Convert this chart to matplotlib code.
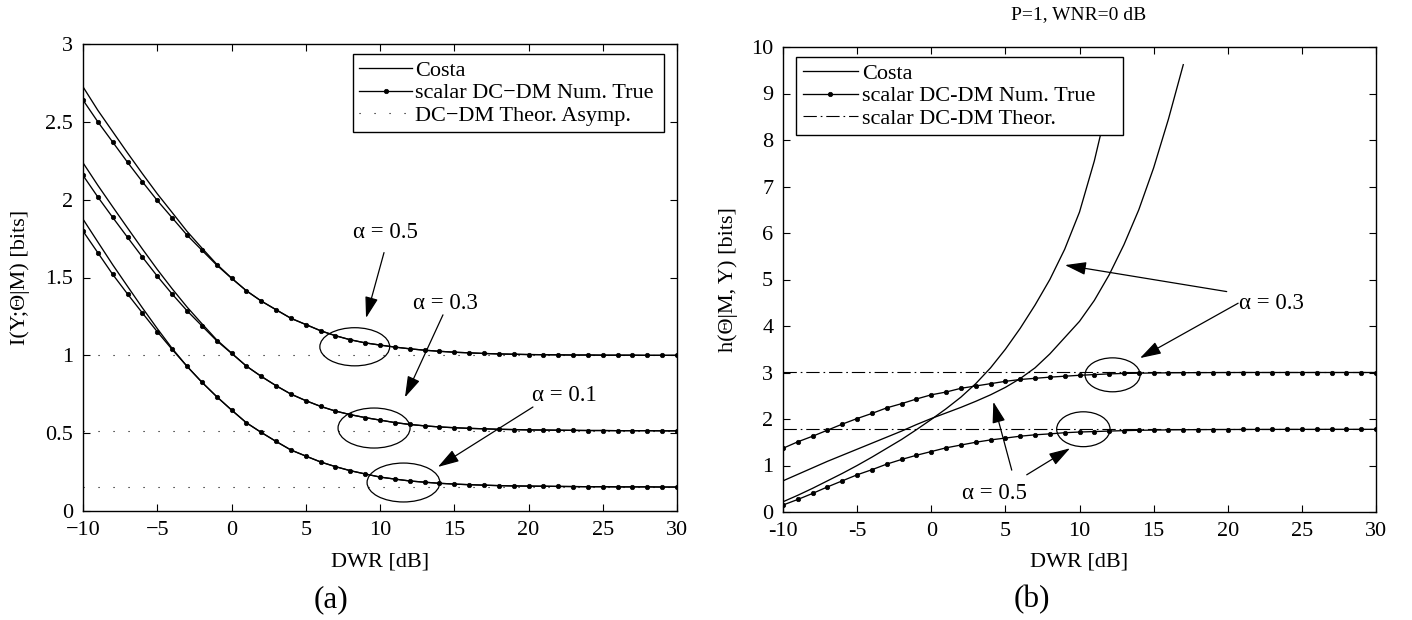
import matplotlib
matplotlib.use("Agg")
import matplotlib.pyplot as plt
from matplotlib.patches import Ellipse

plt.rcParams['font.family'] = ['Liberation Serif', 'DejaVu Serif']

# ---------------- data: panel (a) ----------------
dwr = list(range(-10, 31))

a_dcdm_05 = [2.640, 2.500, 2.370, 2.240, 2.115, 1.995, 1.884, 1.773, 1.676, 1.580,
             1.495, 1.415, 1.349, 1.293, 1.238, 1.198, 1.158, 1.126, 1.100, 1.080,
             1.066, 1.053, 1.042, 1.033, 1.026, 1.020, 1.016, 1.012, 1.009, 1.007,
             1.005, 1.004, 1.003, 1.002, 1.002, 1.001, 1.001, 1.001, 1.000, 1.000, 1.000]
a_costa_05 = [2.725, 2.574, 2.437, 2.300, 2.167, 2.038, 1.918, 1.797, 1.690, 1.586,
              1.497, 1.415, 1.349, 1.293, 1.238, 1.198, 1.158, 1.126, 1.100, 1.080,
              1.066, 1.053, 1.042, 1.033, 1.026, 1.020, 1.016, 1.012, 1.009, 1.007,
              1.005, 1.004, 1.003, 1.002, 1.002, 1.001, 1.001, 1.001, 1.000, 1.000, 1.000]
a_dcdm_03 = [2.156, 2.017, 1.886, 1.758, 1.631, 1.509, 1.394, 1.287, 1.190, 1.094,
             1.013, 0.931, 0.865, 0.805, 0.751, 0.709, 0.672, 0.642, 0.619, 0.600,
             0.584, 0.568, 0.556, 0.547, 0.540, 0.535, 0.531, 0.528, 0.525, 0.523,
             0.521, 0.520, 0.519, 0.518, 0.517, 0.517, 0.516, 0.516, 0.516, 0.515, 0.515]
a_costa_03 = [2.237, 2.092, 1.954, 1.818, 1.683, 1.552, 1.428, 1.311, 1.204, 1.100,
              1.015, 0.931, 0.865, 0.805, 0.751, 0.709, 0.672, 0.642, 0.619, 0.600,
              0.584, 0.568, 0.556, 0.547, 0.540, 0.535, 0.531, 0.528, 0.525, 0.523,
              0.521, 0.520, 0.519, 0.518, 0.517, 0.517, 0.516, 0.516, 0.516, 0.515, 0.515]
a_dcdm_01 = [1.798, 1.659, 1.520, 1.394, 1.272, 1.152, 1.038, 0.930, 0.828, 0.735,
             0.649, 0.567, 0.505, 0.447, 0.392, 0.353, 0.315, 0.285, 0.259, 0.238,
             0.218, 0.205, 0.193, 0.185, 0.178, 0.173, 0.169, 0.166, 0.163, 0.161,
             0.160, 0.159, 0.158, 0.157, 0.156, 0.156, 0.155, 0.155, 0.155, 0.154, 0.154]
a_costa_01 = [1.875, 1.728, 1.582, 1.443, 1.305, 1.172, 1.045, 0.930, 0.828, 0.735,
              0.649, 0.567, 0.505, 0.447, 0.392, 0.353, 0.315, 0.285, 0.259, 0.238,
              0.218, 0.205, 0.193, 0.185, 0.178, 0.173, 0.169, 0.166, 0.163, 0.161,
              0.160, 0.159, 0.158, 0.157, 0.156, 0.156, 0.155, 0.155, 0.155, 0.154, 0.154]
a_asymp = [1.0, 0.515, 0.153]

a_xticks = [-10, -5, 0, 5, 10, 15, 20, 25, 30]
a_xticklabels = ['\u221210', '\u22125', '0', '5', '10', '15', '20', '25', '30']
a_yticks = [0, 0.5, 1, 1.5, 2, 2.5, 3]
a_yticklabels = ['0', '0.5', '1', '1.5', '2', '2.5', '3']

# ---------------- data: panel (b) ----------------
b_dcdm_03 = [1.37, 1.51, 1.63, 1.76, 1.89, 2.01, 2.12, 2.24, 2.33, 2.43,
             2.52, 2.58, 2.66, 2.71, 2.76, 2.81, 2.85, 2.875, 2.90, 2.92,
             2.94, 2.955, 2.97, 2.98, 2.985, 2.99, 2.993, 2.995, 2.997, 2.998,
             2.999, 3.0, 3.0, 3.0, 3.0, 3.0, 3.0, 3.0, 3.0, 3.0, 3.0]
b_dcdm_05 = [0.15, 0.27, 0.40, 0.54, 0.67, 0.80, 0.91, 1.03, 1.13, 1.22,
             1.30, 1.38, 1.44, 1.50, 1.55, 1.59, 1.63, 1.66, 1.68, 1.705,
             1.72, 1.73, 1.74, 1.75, 1.757, 1.762, 1.766, 1.769, 1.771, 1.773,
             1.774, 1.775, 1.776, 1.776, 1.777, 1.777, 1.777, 1.778, 1.778, 1.778, 1.778]
b_costa_05_x = list(range(-10, 18))
b_costa_05 = [0.67, 0.81, 0.95, 1.09, 1.22, 1.35, 1.48, 1.61, 1.74, 1.88,
              2.01, 2.13, 2.25, 2.38, 2.52, 2.68, 2.87, 3.10, 3.40, 3.75,
              4.10, 4.55, 5.10, 5.75, 6.50, 7.40, 8.45, 9.62]
b_costa_03_x = list(range(-10, 13))
b_costa_03 = [0.22, 0.36, 0.51, 0.67, 0.83, 1.00, 1.18, 1.37, 1.56, 1.77,
              1.99, 2.22, 2.47, 2.76, 3.10, 3.50, 3.95, 4.45, 5.00, 5.65,
              6.45, 7.55, 8.90]
b_theor = [3.01, 1.79]

b_xticks = [-10, -5, 0, 5, 10, 15, 20, 25, 30]
b_xticklabels = ['-10', '-5', '0', '5', '10', '15', '20', '25', '30']
b_yticks = list(range(0, 11))
b_yticklabels = [str(v) for v in b_yticks]

# ---------------- figure ----------------
fig = plt.figure(figsize=(14.12, 6.2), dpi=100)
W, H = 1412, 620
ax1 = fig.add_axes([83 / W, 1 - 511 / H, 594 / W, 467 / H])
ax2 = fig.add_axes([783 / W, 1 - 512 / H, 593 / W, 465 / H])

lw = 0.95
ms = 3.2
mew = 0.5
dot_ls = (0, (1, 12.5))
dd_ls = (0, (12, 3.5, 1.5, 3.5))
FS = 16

def style_axes(ax):
    for s in ax.spines.values():
        s.set_linewidth(1.0)
        s.set_color('black')
    ax.tick_params(direction='in', length=5, width=0.8, top=True, right=True,
                   labelsize=FS)
    ax.tick_params(axis='y', pad=7)
    ax.tick_params(axis='x', pad=7)

# ---- panel (a)
l_costa, = ax1.plot(dwr, a_costa_05, color='black', lw=lw)
ax1.plot(dwr, a_costa_03, color='black', lw=lw)
ax1.plot(dwr, a_costa_01, color='black', lw=lw)
l_num, = ax1.plot(dwr, a_dcdm_05, color='black', lw=lw, marker='o', ms=ms, mew=mew)
ax1.plot(dwr, a_dcdm_03, color='black', lw=lw, marker='o', ms=ms, mew=mew)
ax1.plot(dwr, a_dcdm_01, color='black', lw=lw, marker='o', ms=ms, mew=mew)
l_as = None
for v in a_asymp:
    l_as, = ax1.plot([-10, 30], [v, v], color='black', lw=0.8, ls=dot_ls)

ax1.set_xlim(-10, 30)
ax1.set_ylim(0, 3)
ax1.set_xticks(a_xticks)
ax1.set_xticklabels(a_xticklabels)
ax1.set_yticks(a_yticks)
ax1.set_yticklabels(a_yticklabels)
style_axes(ax1)
ax1.set_xlabel('DWR [dB]', fontsize=FS)
ax1.xaxis.label.set_va('center')
ax1.xaxis.set_label_coords(0.5, (511 - 562) / 467)
ax1.set_ylabel('I(Y;\u0398|M) [bits]', fontsize=FS)
ax1.yaxis.label.set_va('center')
ax1.yaxis.set_label_coords((20 - 83) / 594, 0.5)

leg1 = ax1.legend([l_costa, l_num, l_as],
                  ['Costa', 'scalar DC\u2212DM Num. True', 'DC\u2212DM Theor. Asymp.'],
                  loc='upper left', bbox_to_anchor=(0.454, 0.978, 0.5246, 0.0),
                  mode='expand', borderaxespad=0, fontsize=FS, handlelength=2.4,
                  handletextpad=0.12, labelspacing=0.08, borderpad=0.28,
                  numpoints=1, fancybox=False, framealpha=1, edgecolor='black')
leg1.get_frame().set_linewidth(1.0)

for (cx, cy, w, h) in [(8.3, 1.055, 4.7, 0.245), (9.6, 0.533, 4.85, 0.257),
                       (11.58, 0.183, 4.9, 0.25)]:
    ax1.add_patch(Ellipse((cx, cy), w, h, fill=False, edgecolor='black', lw=0.9))

arrow_kw = dict(arrowstyle='-|>,head_length=0.65,head_width=0.2', color='black',
                lw=0.9, shrinkA=0, shrinkB=0, mutation_scale=20)
ax1.annotate('', xy=(9.06, 1.24), xytext=(10.27, 1.66), arrowprops=arrow_kw)
ax1.annotate('', xy=(11.68, 0.73), xytext=(14.24, 1.26), arrowprops=arrow_kw)
ax1.annotate('', xy=(13.9, 0.283), xytext=(20.3, 0.668), arrowprops=arrow_kw)
ax1.text(10.34, 1.79, '\u03b1 = 0.5', fontsize=16.5, ha='center', va='center')
ax1.text(14.38, 1.336, '\u03b1 = 0.3', fontsize=16.5, ha='center', va='center')
ax1.text(22.39, 0.745, '\u03b1 = 0.1', fontsize=16.5, ha='center', va='center')

# ---- panel (b)
m_costa, = ax2.plot(b_costa_05_x, b_costa_05, color='black', lw=lw)
ax2.plot(b_costa_03_x, b_costa_03, color='black', lw=lw)
m_num, = ax2.plot(dwr, b_dcdm_03, color='black', lw=lw, marker='o', ms=ms, mew=mew)
ax2.plot(dwr, b_dcdm_05, color='black', lw=lw, marker='o', ms=ms, mew=mew)
m_th = None
for v in b_theor:
    m_th, = ax2.plot([-10, 30], [v, v], color='black', lw=0.8, ls=dd_ls)

ax2.set_xlim(-10, 30)
ax2.set_ylim(0, 10)
ax2.set_xticks(b_xticks)
ax2.set_xticklabels(b_xticklabels)
ax2.set_yticks(b_yticks)
ax2.set_yticklabels(b_yticklabels)
style_axes(ax2)
ax2.set_xlabel('DWR [dB]', fontsize=FS)
ax2.xaxis.label.set_va('center')
ax2.xaxis.set_label_coords(0.5, (512 - 562) / 465)
ax2.set_ylabel('h(\u0398|M, Y) [bits]', fontsize=FS)
ax2.yaxis.label.set_va('center')
ax2.yaxis.set_label_coords((728 - 783) / 593, 0.5)

leg2 = ax2.legend([m_costa, m_num, m_th],
                  ['Costa', 'scalar DC-DM Num. True', 'scalar DC-DM Theor.'],
                  loc='upper left', bbox_to_anchor=(0.0219, 0.979, 0.552, 0.0),
                  mode='expand', borderaxespad=0, fontsize=FS, handlelength=2.5,
                  handletextpad=0.18, labelspacing=0.08, borderpad=0.3,
                  numpoints=1, fancybox=False, framealpha=1, edgecolor='black')
leg2.get_frame().set_linewidth(1.0)
leg2.set_zorder(5)

for (cx, cy, w, h) in [(12.23, 2.95, 3.71, 0.73), (10.26, 1.78, 3.6, 0.75)]:
    ax2.add_patch(Ellipse((cx, cy), w, h, fill=False, edgecolor='black', lw=0.9))

ax2.annotate('', xy=(9.02, 5.31), xytext=(19.93, 4.74), arrowprops=arrow_kw)
ax2.annotate('', xy=(14.08, 3.31), xytext=(20.7, 4.49), arrowprops=arrow_kw)
ax2.annotate('', xy=(4.19, 2.37), xytext=(5.43, 0.90), arrowprops=arrow_kw)
ax2.annotate('', xy=(9.36, 1.37), xytext=(6.44, 0.80), arrowprops=arrow_kw)
ax2.text(22.92, 4.49, '\u03b1 = 0.3', fontsize=16.5, ha='center', va='center')
ax2.text(4.23, 0.40, '\u03b1 = 0.5', fontsize=16.5, ha='center', va='center')

# ---- figure texts
fig.text(1079 / W, 1 - 15 / H, 'P=1, WNR=0 dB', fontsize=14, ha='center', va='center')
fig.text(331 / W, 1 - 600 / H, '(a)', fontsize=22.5, ha='center', va='center')
fig.text(1032 / W, 1 - 600 / H, '(b)', fontsize=22.5, ha='center', va='center')

fig.savefig('out.png', dpi=100, facecolor='white')
